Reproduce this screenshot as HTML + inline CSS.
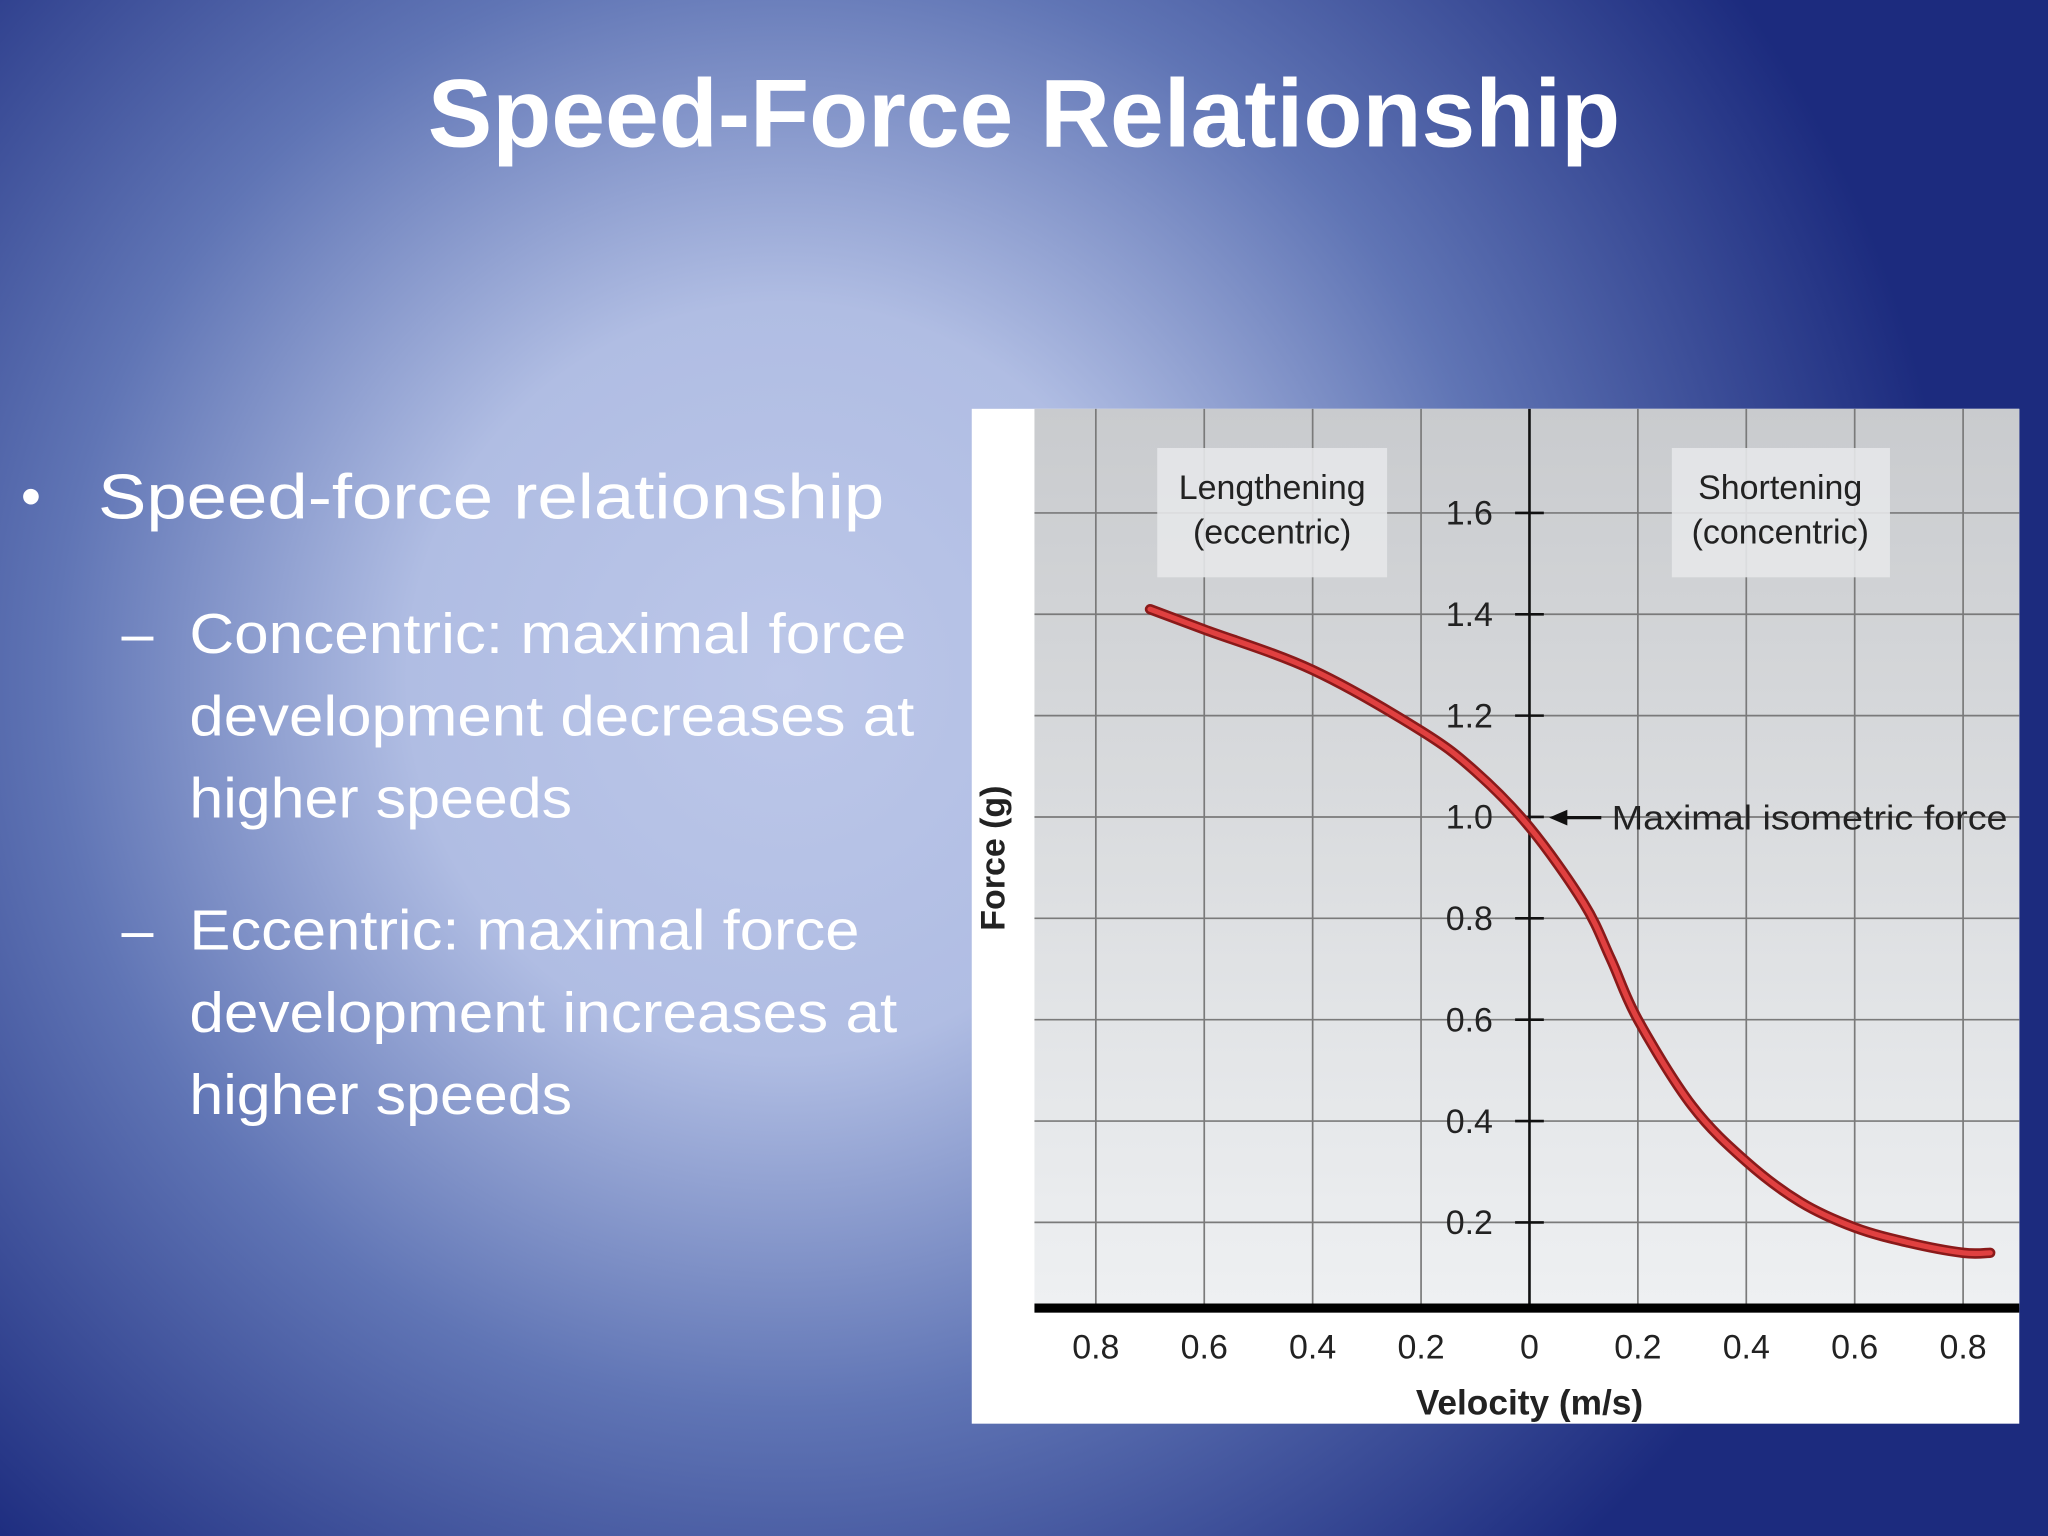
<!DOCTYPE html>
<html><head><meta charset="utf-8"><style>
html,body{margin:0;padding:0;width:2048px;height:1536px;overflow:hidden}
svg{display:block}
text{font-family:"Liberation Sans",sans-serif}
</style></head><body>
<svg id="root" width="2048" height="1536" viewBox="0 0 1568 1176" xmlns="http://www.w3.org/2000/svg">
<defs>
<radialGradient id="bg" cx="600" cy="520" r="900" gradientUnits="userSpaceOnUse">
<stop offset="0" stop-color="#bcc7e9"/><stop offset="0.32" stop-color="#b0bde3"/><stop offset="0.62" stop-color="#6075b5"/><stop offset="1" stop-color="#1c2b7e"/></radialGradient>
<linearGradient id="plotbg" x1="0" y1="0" x2="0" y2="1"><stop offset="0" stop-color="#c9cbce"/><stop offset="1" stop-color="#eef0f2"/></linearGradient>
</defs>
<rect width="1568" height="1176" fill="url(#bg)"/>
<text x="784" y="112" text-anchor="middle" font-size="74" font-weight="bold" fill="#fff" textLength="913" lengthAdjust="spacingAndGlyphs">Speed-Force Relationship</text>
<g fill="#fff">
<text x="16" y="395" font-size="44">•</text>
<text x="75" y="397" font-size="48" textLength="602" lengthAdjust="spacingAndGlyphs">Speed-force relationship</text>
<text x="93" y="500" font-size="44">–</text>
<text x="145" y="500" font-size="43" textLength="549" lengthAdjust="spacingAndGlyphs">Concentric: maximal force</text>
<text x="145" y="563" font-size="43" textLength="555" lengthAdjust="spacingAndGlyphs">development decreases at</text>
<text x="145" y="626" font-size="43" textLength="293" lengthAdjust="spacingAndGlyphs">higher speeds</text>
<text x="93" y="727" font-size="44">–</text>
<text x="145" y="727" font-size="43" textLength="513" lengthAdjust="spacingAndGlyphs">Eccentric: maximal force</text>
<text x="145" y="790" font-size="43" textLength="542" lengthAdjust="spacingAndGlyphs">development increases at</text>
<text x="145" y="853" font-size="43" textLength="293" lengthAdjust="spacingAndGlyphs">higher speeds</text>
</g>
<g id="chart">
<rect x="744" y="313" width="802" height="777" fill="#fff"/>
<rect x="792" y="313" width="754" height="688" fill="url(#plotbg)"/>
<g id="grid"></g>
<rect x="886" y="343" width="176" height="99" fill="#e6e7e9" opacity="0.9"/>
<rect x="1280" y="343" width="167" height="99" fill="#e6e7e9" opacity="0.9"/>
<text x="974" y="382" font-size="26" text-anchor="middle" fill="#222">Lengthening</text>
<text x="974" y="416" font-size="26" text-anchor="middle" fill="#222">(eccentric)</text>
<text x="1363" y="382" font-size="26" text-anchor="middle" fill="#222">Shortening</text>
<text x="1363" y="416" font-size="26" text-anchor="middle" fill="#222">(concentric)</text>
<g id="axes"></g>
<path id="curve-outer" fill="none" stroke="#8a1a1a" stroke-width="8" stroke-linecap="round"/>
<path id="curve" fill="none" stroke="#e04040" stroke-width="4" stroke-linecap="round"/>
<g>
<line x1="1226" y1="626" x2="1196" y2="626" stroke="#111" stroke-width="2.5"/>
<polygon points="1186,626 1200,620 1200,632" fill="#111"/>
<text x="1234" y="635" font-size="26" fill="#222" textLength="303" lengthAdjust="spacingAndGlyphs">Maximal isometric force</text>
</g>
<text x="1171" y="1083" font-size="27" font-weight="bold" text-anchor="middle" fill="#222">Velocity (m/s)</text>
<text transform="translate(769,657) rotate(-90)" font-size="26" font-weight="bold" text-anchor="middle" fill="#222">Force (g)</text>
</g>
</svg>
<script>
const xTicks=[-0.8,-0.6,-0.4,-0.2,0,0.2,0.4,0.6,0.8];
const xTickLabels=["0.8","0.6","0.4","0.2","0","0.2","0.4","0.6","0.8"];
const yTicks=[0.2,0.4,0.6,0.8,1.0,1.2,1.4,1.6];
const yTickLabels=["0.2","0.4","0.6","0.8","1.0","1.2","1.4","1.6"];
const velocity=[-0.7,-0.6,-0.4,-0.2,-0.1,0,0.1,0.15,0.2,0.3,0.4,0.5,0.6,0.7,0.8,0.85];
const force=[1.41,1.37,1.29,1.17,1.09,0.98,0.83,0.72,0.6,0.43,0.32,0.24,0.19,0.16,0.14,0.14];
const NS="http://www.w3.org/2000/svg";
function xs(v){return 1171+v/0.2*83;}
function ys(f){return 1013.5-f*388;}
function mk(tag,attrs,parent){const e=document.createElementNS(NS,tag);for(const k in attrs)e.setAttribute(k,attrs[k]);parent.appendChild(e);return e;}
const grid=document.getElementById('grid'),axes=document.getElementById('axes');
xTicks.forEach((v,i)=>{
 const l=mk('line',{x1:xs(v),x2:xs(v),y1:313,y2:1001,stroke:v===0?'#111':'#7a7a7a','stroke-width':v===0?2:1.3},grid);
 
 
 const t=mk('text',{x:xs(v),y:1040,'font-size':26,'text-anchor':'middle',fill:'#222'},axes);
 t.textContent=xTickLabels[i];
 
 
});
yTicks.forEach((f,i)=>{
 const l=mk('line',{x1:792,x2:1546,y1:ys(f),y2:ys(f),stroke:'#7a7a7a','stroke-width':1.3},grid);
 
 
 const tk=mk('line',{x1:1160,x2:1182,y1:ys(f),y2:ys(f),stroke:'#111','stroke-width':2},axes);
 
 
 const t=mk('text',{x:1143,y:ys(f)+9,'font-size':26,'text-anchor':'end',fill:'#222'},axes);
 t.textContent=yTickLabels[i];
 
 
});
const base=mk('rect',{x:792,y:998,width:754,height:7,fill:'#000'},axes);


const P=velocity.map((v,i)=>[xs(v),ys(force[i])]);
let d='M'+P[0][0]+','+P[0][1];
for(let i=0;i<P.length-1;i++){
 const p0=P[Math.max(0,i-1)],p1=P[i],p2=P[i+1],p3=P[Math.min(P.length-1,i+2)];
 const c1=[p1[0]+(p2[0]-p0[0])/6,p1[1]+(p2[1]-p0[1])/6],c2=[p2[0]-(p3[0]-p1[0])/6,p2[1]-(p3[1]-p1[1])/6];
 d+=' C'+c1+' '+c2+' '+p2;
}
document.getElementById('curve').setAttribute('d',d);
document.getElementById('curve-outer').setAttribute('d',d);
</script>
</body></html>
